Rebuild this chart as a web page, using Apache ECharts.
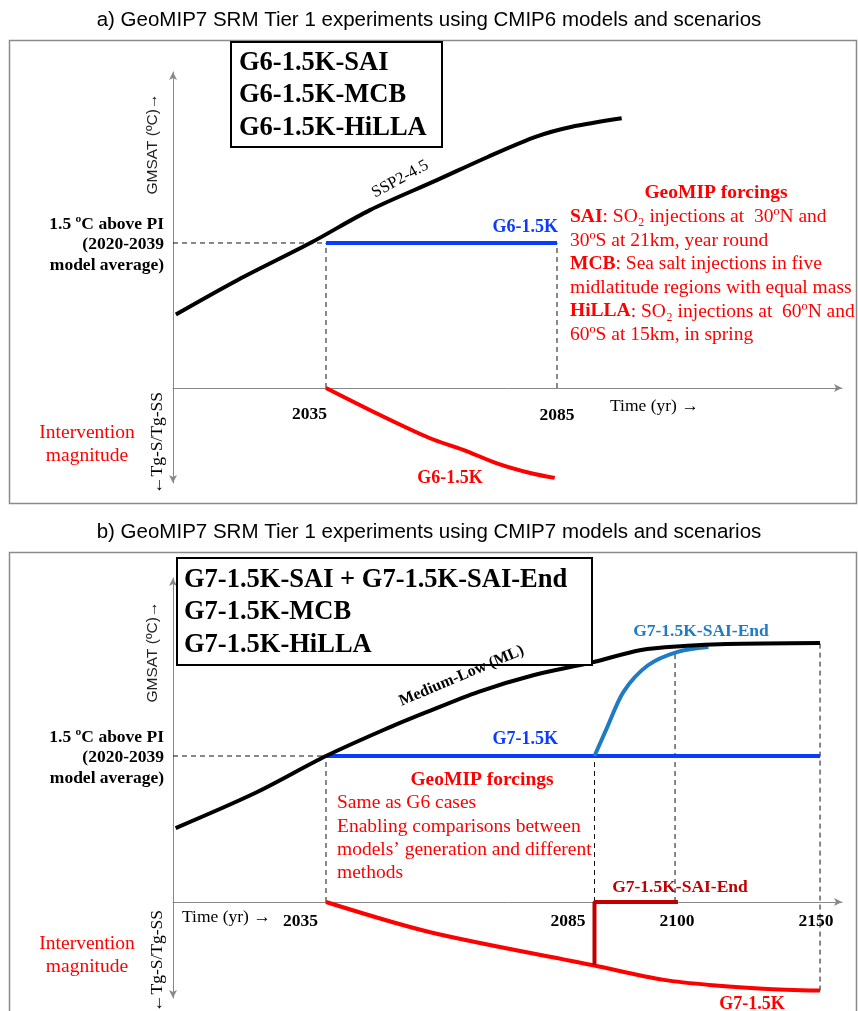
<!DOCTYPE html>
<html><head><meta charset="utf-8">
<script src="https://cdn.jsdelivr.net/npm/echarts@6/dist/echarts.min.js"></script>
<style>html,body{margin:0;padding:0;background:#fff}#c{width:858px;height:1011px}</style>
</head><body><div id="c"></div>
<script>
// ================= DATA (schematic values) =================
// Panel a: CMIP6 / G6
const sspYears   = [2002.5, 2016, 2032, 2044.5, 2059, 2070, 2080.5, 2088, 2099];
const sspTemp    = [0.76, 1.12, 1.51, 1.84, 2.15, 2.39, 2.60, 2.70, 2.79];
const g6Years    = [2035, 2085];
const g6Temp     = [1.5, 1.5];
const g6MagYears = [2035, 2046.7, 2057.5, 2064.7, 2072, 2079.2, 2084.5];
const g6Mag      = [0, -0.28, -0.52, -0.64, -0.78, -0.88, -0.93];
const tickYearsA  = [2035, 2085];
const tickLabelsA = ['2035', '2085'];

// Panel b: CMIP7 / G7 (time axis is schematic: compressed after 2100)
const mlYears    = [2007, 2021.8, 2035, 2045.8, 2053.7, 2063.4, 2073.6, 2084.4, 2093.7, 2102.9, 2117.7, 2150];
const mlTemp     = [0.76, 1.12, 1.50, 1.77, 1.95, 2.16, 2.33, 2.46, 2.59, 2.63, 2.65, 2.66];
const g7Years    = [2035, 2150];
const g7Temp     = [1.5, 1.5];
const endYears   = [2085, 2087.4, 2090.4, 2094.9, 2100.9, 2111.5];
const endTemp    = [1.5, 1.80, 2.16, 2.43, 2.57, 2.62];
const g7MagYears = [2035, 2054.4, 2084.8, 2097.9, 2115, 2130.4, 2150];
const g7Mag      = [0, -0.31, -0.65, -0.80, -0.86, -0.89, -0.91];
const endMagYears = [2085, 2085, 2101];
const endMag      = [-0.65, 0, 0];
const tickYearsB  = [2035, 2085, 2100, 2150];
const tickLabelsB = ['2035', '2085', '2100', '2150'];

const level15 = 1.5;

// ================= helpers =================
const SERIF = "'Liberation Serif','Times New Roman',serif";
const SANS  = "'Liberation Sans',Arial,sans-serif";
const RED = '#ff0000', BLUE = '#0a3cff', STEEL = '#1f7bc4', DARKRED = '#c00000';

// schematic time axis of panel b: linear to 2100, compressed afterwards
function tb(y) { return y <= 2100 ? y : 2100 + (y - 2100) * 0.54; }
const zipA = (xs, ys) => xs.map((x, i) => [x, ys[i]]);
const zipB = (xs, ys) => xs.map((x, i) => [tb(x), ys[i]]);

const xMinA = 2001.88, xMaxA = 2146.69;
const xMinB = 2006.51, xMaxB = 2131.09;

function ln(idx, data, color, width, extra) {
  return Object.assign({
    type: 'line', xAxisIndex: idx, yAxisIndex: idx, data: data,
    symbol: 'none', showSymbol: false, silent: true, animation: false,
    lineStyle: { color: color, width: width, cap: 'butt' }, z: 3
  }, extra || {});
}
function dash(idx, data) {
  return ln(idx, data, '#000', 1, { lineStyle: { color: '#111', width: 1, type: [5, 4] }, z: 2 });
}

const axisX = (i, min, max) => ({
  type: 'value', gridIndex: i, min: min, max: max,
  axisLine: { show: true, onZero: true, symbol: ['none', 'arrow'], symbolSize: [6, 8], lineStyle: { color: '#888', width: 1 } },
  axisTick: { show: false }, axisLabel: { show: false }, splitLine: { show: false }
});
const axisY = (i, min, max) => ({
  type: 'value', gridIndex: i, min: min, max: max,
  axisLine: { show: true, onZero: false, symbol: ['arrow', 'arrow'], symbolSize: [6, 8], lineStyle: { color: '#888', width: 1 } },
  axisTick: { show: false }, axisLabel: { show: false }, splitLine: { show: false }
});

const chart = echarts.init(document.getElementById('c'), null, { renderer: 'canvas' });

const option = {
  backgroundColor: '#fff',
  animation: false,
  grid: [
    { left: 173, top: 72, width: 669, height: 411 },
    { left: 173, top: 578, width: 669, height: 420 }
  ],
  xAxis: [axisX(0, xMinA, xMaxA), axisX(1, xMinB, xMaxB)],
  yAxis: [axisY(0, -0.983, 3.269), axisY(1, -0.986, 3.329)],
  series: [
    // panel a
    dash(0, [[xMinA, level15], [2035, level15]]),
    dash(0, [[2035, 0], [2035, level15]]),
    dash(0, [[2085, 0], [2085, level15]]),
    ln(0, zipA(sspYears, sspTemp), '#000', 4, { smooth: 0.3 }),
    ln(0, zipA(g6Years, g6Temp), BLUE, 4),
    ln(0, zipA(g6MagYears, g6Mag), RED, 4, { smooth: 0.3 }),
    // panel b
    dash(1, [[xMinB, level15], [tb(2035), level15]]),
    dash(1, [[tb(2035), 0], [tb(2035), level15]]),
    dash(1, [[tb(2085), 0], [tb(2085), level15]]),
    dash(1, [[tb(2100), 0], [tb(2100), 2.57]]),
    dash(1, [[tb(2150), -0.91], [tb(2150), 2.66]]),
    ln(1, zipB(g7Years, g7Temp), BLUE, 4),
    ln(1, zipB(endYears, endTemp), STEEL, 4, { smooth: 0.3, z: 3 }),
    ln(1, zipB(mlYears, mlTemp), '#000', 4, { smooth: 0.3, z: 4 }),
    ln(1, zipB(g7MagYears, g7Mag), RED, 4, { smooth: 0.3 }),
    ln(1, zipB(endMagYears, endMag), DARKRED, 4, { z: 5 })
  ]
};
chart.setOption(option);

// ================= text / frames =================
function T(x, y, text, o) {
  o = o || {};
  const st = {
    text: text, fontFamily: o.family || SERIF, fontSize: o.size || 18,
    fontWeight: o.weight || 'normal', fill: o.color || '#000',
    align: o.align || 'left', verticalAlign: 'middle'
  };
  if (o.rich) st.rich = o.rich;
  return { type: 'text', x: x, y: y, rotation: o.rot || 0, style: st, silent: true, z: 100 };
}
const richB = (size) => ({ b: { fontWeight: 'bold', fontFamily: SERIF, fontSize: size, fill: RED },
                           n: { fontWeight: 'normal', fontFamily: SERIF, fontSize: size, fill: RED } });

const g = [];
// frames
g.push({ type: 'rect', shape: { x: 9.5, y: 40.5, width: 847, height: 463 }, style: { fill: null, stroke: '#8a8a8a', lineWidth: 1.5 }, silent: true, z: 1 });
g.push({ type: 'rect', shape: { x: 9.5, y: 552.5, width: 847, height: 480 }, style: { fill: null, stroke: '#8a8a8a', lineWidth: 1.5 }, silent: true, z: 1 });
// titles
g.push(T(429, 20, 'a) GeoMIP7 SRM Tier 1 experiments using CMIP6 models and scenarios', { family: SANS, size: 20.5, align: 'center' }));
g.push(T(429, 532, 'b) GeoMIP7 SRM Tier 1 experiments using CMIP7 models and scenarios', { family: SANS, size: 20.5, align: 'center' }));

// boxes
g.push({ type: 'rect', shape: { x: 231, y: 42, width: 211, height: 105 }, style: { fill: '#fff', stroke: '#000', lineWidth: 2 }, silent: true, z: 90 });
g.push({ type: 'rect', shape: { x: 177, y: 558, width: 415, height: 107 }, style: { fill: '#fff', stroke: '#000', lineWidth: 2 }, silent: true, z: 90 });
['G6-1.5K-SAI', 'G6-1.5K-MCB', 'G6-1.5K-HiLLA'].forEach((s, i) => g.push(T(239, 63 + i * 32.5, s, { size: 26.5, weight: 'bold' })));
['G7-1.5K-SAI + G7-1.5K-SAI-End', 'G7-1.5K-MCB', 'G7-1.5K-HiLLA'].forEach((s, i) => g.push(T(184, 580 + i * 32.5, s, { size: 26.5, weight: 'bold' })));

// left-side labels, both panels
[0, 1].forEach((p) => {
  ['1.5 ºC above PI', '(2020-2039', 'model average)'].forEach((s, i) =>
    g.push(T(164, (p ? 737 : 224) + i * 20.5, s, { size: 17.5, weight: 'bold', align: 'right' })));
  g.push(T(153, p ? 652 : 144, 'GMSAT (ºC)→', { family: SANS, size: 15.5, align: 'center', rot: Math.PI / 2, color: '#222' }));
  g.push(T(157, p ? 961 : 443, '←Tg-S/Tg-SS', { size: 17.5, align: 'center', rot: Math.PI / 2 }));
  g.push(T(87, p ? 944 : 433, 'Intervention', { size: 19.5, align: 'center', color: RED }));
  g.push(T(87, p ? 967 : 456, 'magnitude', { size: 19.5, align: 'center', color: RED }));
});
g.push(T(610, 406, 'Time (yr) →', { size: 17.5 }));
g.push(T(182, 917, 'Time (yr) →', { size: 17.5 }));

// curve labels panel a
g.push(T(373, 194, 'SSP2-4.5', { size: 16.5, rot: 0.5 }));
g.push(T(558, 227, 'G6-1.5K', { size: 18, weight: 'bold', color: BLUE, align: 'right' }));
g.push(T(450, 478, 'G6-1.5K', { size: 18, weight: 'bold', color: RED, align: 'center' }));
// forcings panel a
g.push(T(716, 193, 'GeoMIP forcings', { size: 19.5, weight: 'bold', color: RED, align: 'center' }));
const fa = [
  '{b|SAI}{n|: SO₂ injections at  30ºN and}',
  '{n|30ºS at 21km, year round}',
  '{b|MCB}{n|: Sea salt injections in five}',
  '{n|midlatitude regions with equal mass}',
  '{b|HiLLA}{n|: SO₂ injections at  60ºN and}',
  '{n|60ºS at 15km, in spring}'
];
fa.forEach((s, i) => g.push(T(570, 217 + i * 23.6, s, { size: 19.5, color: RED, rich: richB(19.5) })));

// curve labels panel b
g.push(T(400, 702, 'Medium-Low (ML)', { size: 16, weight: 'bold', rot: 0.4 }));
g.push(T(558, 739, 'G7-1.5K', { size: 18, weight: 'bold', color: BLUE, align: 'right' }));
g.push(T(701, 631, 'G7-1.5K-SAI-End', { size: 17.5, weight: 'bold', color: STEEL, align: 'center' }));
g.push(T(680, 887, 'G7-1.5K-SAI-End', { size: 17.5, weight: 'bold', color: DARKRED, align: 'center' }));
g.push(T(752, 1004, 'G7-1.5K', { size: 18, weight: 'bold', color: RED, align: 'center' }));
// forcings panel b
g.push(T(482, 780, 'GeoMIP forcings', { size: 19.5, weight: 'bold', color: RED, align: 'center' }));
['Same as G6 cases', 'Enabling comparisons between', 'models’ generation and different', 'methods']
  .forEach((s, i) => g.push(T(337, 803 + i * 23.4, s, { size: 19.5, color: RED })));

// tick labels, placed through the axes' scales
const tickStyleA = [{ align: 'right', dx: 1, dy: 27 }, { align: 'center', dx: 0, dy: 28 }];
tickYearsA.forEach((yr, i) => {
  const p = chart.convertToPixel({ gridIndex: 0 }, [yr, 0]);
  const s = tickStyleA[i];
  g.push(T(p[0] + s.dx, p[1] + s.dy, tickLabelsA[i], { size: 17.5, weight: 'bold', align: s.align }));
});
const tickStyleB = [{ align: 'right', dx: -8, dy: 19 }, { align: 'right', dx: -9, dy: 19 }, { align: 'center', dx: 2, dy: 19 }, { align: 'center', dx: -4, dy: 19 }];
tickYearsB.forEach((yr, i) => {
  const p = chart.convertToPixel({ gridIndex: 1 }, [tb(yr), 0]);
  const s = tickStyleB[i];
  g.push(T(p[0] + s.dx, p[1] + s.dy, tickLabelsB[i], { size: 17.5, weight: 'bold', align: s.align }));
});

chart.setOption({ graphic: g });
</script>
</body></html>
